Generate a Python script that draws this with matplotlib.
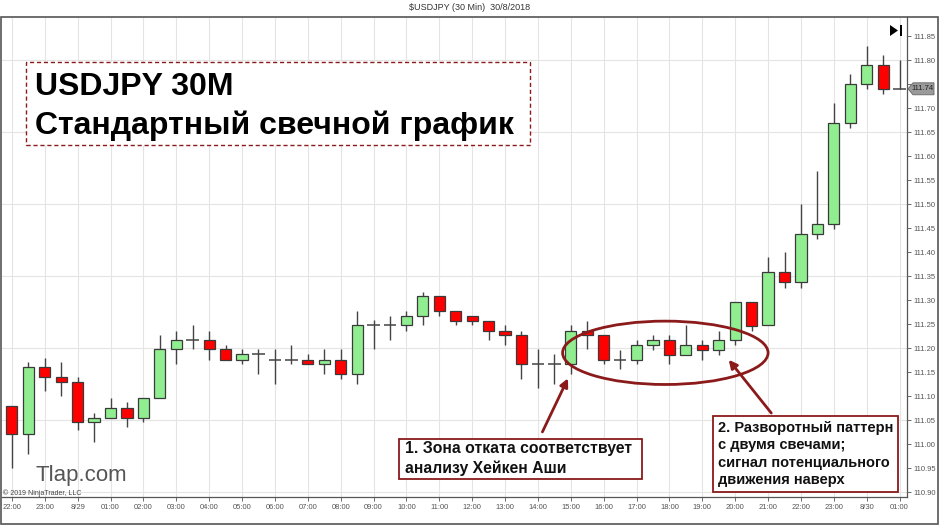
import matplotlib
matplotlib.use("Agg")
import matplotlib.pyplot as plt
from matplotlib.patches import Rectangle, Ellipse, Polygon

plt.rcParams['font.family'] = ['Liberation Sans', 'DejaVu Sans']

# 30 min candles, 28 Aug 22:00 .. 30 Aug 01:00
opens = [111.08, 111.02, 111.16, 111.14, 111.13, 111.045, 111.055, 111.075, 111.055, 111.095,
         111.197, 111.217, 111.217, 111.197, 111.175, 111.187, 111.176, 111.176, 111.175, 111.166,
         111.176, 111.145, 111.248, 111.248, 111.248, 111.267, 111.308, 111.278, 111.267, 111.257,
         111.236, 111.227, 111.166, 111.166, 111.166, 111.236, 111.227, 111.176, 111.175, 111.206,
         111.217, 111.185, 111.206, 111.196, 111.217, 111.296, 111.248, 111.358, 111.337, 111.437,
         111.458, 111.668, 111.749, 111.79, 111.74]
highs = [111.08, 111.17, 111.18, 111.17, 111.14, 111.065, 111.095, 111.087, 111.095, 111.227,
         111.236, 111.248, 111.236, 111.206, 111.197, 111.197, 111.197, 111.206, 111.187, 111.197,
         111.197, 111.278, 111.258, 111.267, 111.278, 111.317, 111.308, 111.278, 111.267, 111.257,
         111.248, 111.236, 111.197, 111.187, 111.248, 111.257, 111.227, 111.196, 111.217, 111.227,
         111.227, 111.248, 111.217, 111.236, 111.296, 111.296, 111.389, 111.399, 111.499, 111.569,
         111.71, 111.77, 111.83, 111.81, 111.80]
lows = [110.95, 110.98, 111.11, 111.10, 111.03, 111.005, 111.055, 111.035, 111.045, 111.095,
        111.167, 111.197, 111.175, 111.175, 111.167, 111.146, 111.126, 111.167, 111.167, 111.145,
        111.135, 111.126, 111.197, 111.217, 111.236, 111.248, 111.267, 111.248, 111.248, 111.217,
        111.206, 111.135, 111.116, 111.126, 111.145, 111.197, 111.166, 111.156, 111.167, 111.196,
        111.167, 111.185, 111.175, 111.185, 111.206, 111.236, 111.248, 111.326, 111.326, 111.427,
        111.448, 111.658, 111.74, 111.729, 111.74]
closes = [111.02, 111.16, 111.14, 111.13, 111.045, 111.055, 111.075, 111.055, 111.095, 111.197,
          111.217, 111.217, 111.197, 111.175, 111.187, 111.187, 111.176, 111.176, 111.167, 111.176,
          111.145, 111.248, 111.248, 111.248, 111.267, 111.308, 111.278, 111.257, 111.257, 111.236,
          111.227, 111.166, 111.166, 111.166, 111.236, 111.227, 111.176, 111.176, 111.206, 111.217,
          111.185, 111.206, 111.196, 111.217, 111.296, 111.246, 111.358, 111.337, 111.437, 111.458,
          111.668, 111.749, 111.79, 111.74, 111.74]

time_labels = ['22:00', '23:00', '8/29'] + ['%02d:00' % h for h in range(1, 24)] + ['8/30', '01:00']
price_ticks = [round(110.90 + 0.05 * i, 2) for i in range(20)]
grid_prices = [110.90, 111.05, 111.20, 111.35, 111.50, 111.65, 111.80]
last_price = 111.74

W, H = 939, 526
def fx(x):
    return x / W
def fy(y):
    return 1 - y / H

fig = plt.figure(figsize=(9.39, 5.26), dpi=100)
ax = fig.add_axes([fx(2), fy(497), fx(907) - fx(2), fy(17) - fy(497)])

n = len(opens)
idx = list(range(n))
ax.set_xlim(-0.6, 54.45)
ax.set_ylim(110.8896, 111.8896)

# grid
for i in range(0, n, 2):
    ax.axvline(i, color='#e4e4e4', lw=0.8, zorder=0)
for p in grid_prices:
    ax.axhline(p, color='#e4e4e4', lw=0.8, zorder=0)

# candles
ax.vlines(idx, lows, highs, color='#444444', lw=1, zorder=2)
for i in idx:
    o, c = opens[i], closes[i]
    if abs(c - o) < 0.002:
        ax.hlines(o, i - 0.38, i + 0.38, color='#444444', lw=1.1, zorder=3)
        continue
    col = '#90ee90' if c > o else '#ff0000'
    ax.bar(i, abs(c - o), bottom=min(o, c), width=0.68, color=col,
           edgecolor='#3a3a3a', linewidth=0.9, zorder=3)

ax.yaxis.tick_right()
ax.set_yticks(price_ticks)
# 111.75 sits under the last-price marker
ax.set_yticklabels(['' if abs(p - 111.75) < 1e-6 else '%.2f' % p for p in price_ticks])
ax.set_xticks(list(range(0, n, 2)))
ax.set_xticklabels(time_labels)
ax.tick_params(axis='both', labelsize=5.5, colors='#555555', length=3, width=0.6, pad=2)
for s in ['top', 'left']:
    ax.spines[s].set_visible(False)
for s in ['right', 'bottom']:
    ax.spines[s].set_color('#555555')
    ax.spines[s].set_linewidth(0.9)

# annotations
dark_red = '#8b1a1a'
ax.add_patch(Ellipse((39.75, 111.19), 12.5, 0.132, fill=False, edgecolor=dark_red, lw=2, zorder=5))
ax.annotate('', xy=(33.9, 111.142), xytext=(32.2, 111.02),
            arrowprops=dict(arrowstyle='-|>', color=dark_red, lw=2, mutation_scale=12), zorder=5)
ax.annotate('', xy=(43.5, 111.18), xytext=(46.3, 111.06),
            arrowprops=dict(arrowstyle='-|>', color=dark_red, lw=2, mutation_scale=12), zorder=5)

# panel border
fig.add_artist(Rectangle((fx(0.5), fy(524)), fx(938) - fx(0.5), fy(17) - fy(524),
                         transform=fig.transFigure, fill=False, edgecolor='#555555', lw=1.2))

fig.text(fx(470), fy(8), '$USDJPY (30 Min)  30/8/2018', ha='center', va='center',
         fontsize=6.5, color='#333333')

# title box
fig.add_artist(Rectangle((fx(26), fy(145)), fx(530) - fx(26), fy(62) - fy(145),
                         transform=fig.transFigure, facecolor='white', edgecolor=dark_red,
                         lw=1, ls=(0, (3, 2)), zorder=6))
fig.text(fx(35), fy(87), 'USDJPY 30M', fontsize=23, fontweight='bold', va='center', zorder=7)
fig.text(fx(35), fy(126), 'Стандартный свечной график', fontsize=23, fontweight='bold',
         va='center', zorder=7)

# box 1
fig.add_artist(Rectangle((fx(399), fy(479)), fx(642) - fx(399), fy(439) - fy(479),
                         transform=fig.transFigure, facecolor='white', edgecolor=dark_red,
                         lw=1.3, zorder=6))
fig.text(fx(405), fy(449), '1. Зона отката соответствует', fontsize=11.3, fontweight='bold',
         va='center', color='#111111', zorder=7)
fig.text(fx(405), fy(468), 'анализу Хейкен Аши', fontsize=11.3, fontweight='bold',
         va='center', color='#111111', zorder=7)

# box 2
fig.add_artist(Rectangle((fx(713), fy(492)), fx(898) - fx(713), fy(416) - fy(492),
                         transform=fig.transFigure, facecolor='white', edgecolor=dark_red,
                         lw=1.3, zorder=6))
lines2 = ['2. Разворотный паттерн', 'с двумя свечами;', 'сигнал потенциального', 'движения наверх']
for k, t in enumerate(lines2):
    fig.text(fx(718), fy(428 + 17.3 * k), t, fontsize=10.5, fontweight='bold',
             va='center', color='#111111', zorder=7)

# watermark and credits
fig.text(fx(35), fy(475), 'Tlap.com', fontsize=16, color='#555555', va='center')
fig.text(fx(3), fy(493), '© 2019 NinjaTrader, LLC', fontsize=5, color='#444444', va='center')

# last price marker
yp = 36 + (111.85 - last_price) * 480
fig.add_artist(Polygon([(fx(908), fy(yp)), (fx(913), fy(yp - 6)), (fx(934), fy(yp - 6)),
                        (fx(934), fy(yp + 6)), (fx(913), fy(yp + 6))], closed=True,
                       transform=fig.transFigure, facecolor='#9a9a9a', edgecolor='#666666',
                       lw=0.6, zorder=10))
fig.text(fx(923), fy(yp), '%.2f' % last_price, fontsize=5.5, ha='center', va='center',
         color='#222222', zorder=11)

# play-to-end icon
fig.add_artist(Polygon([(fx(890), fy(25)), (fx(890), fy(36)), (fx(898), fy(30.5))], closed=True,
                       transform=fig.transFigure, facecolor='black'))
fig.add_artist(Rectangle((fx(899.5), fy(36)), fx(2), fy(25) - fy(36),
                         transform=fig.transFigure, facecolor='black'))

fig.savefig('out.png', dpi=100)
